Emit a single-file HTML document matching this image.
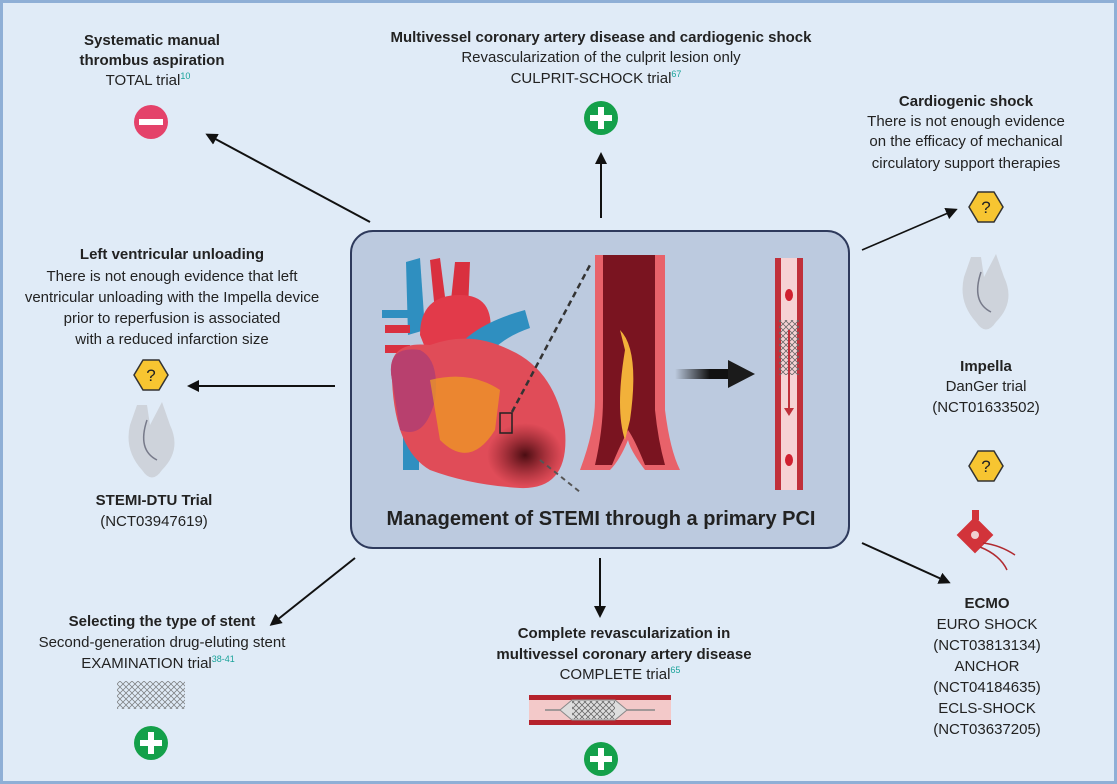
<!DOCTYPE html>
<html><head><meta charset="utf-8"><style>
html,body{margin:0;padding:0;background:#e0ebf7}
svg{display:block}
text{font-family:"Liberation Sans",Arial,sans-serif;font-size:15px;fill:#222;text-anchor:middle}
.b{font-weight:bold}
.s{font-size:9px;fill:#1aa39a;text-anchor:start}
</style></head><body>
<svg width="1117" height="784" viewBox="0 0 1117 784" xmlns="http://www.w3.org/2000/svg">
<defs>
<marker id="ah" markerWidth="12" markerHeight="12" refX="9" refY="6" orient="auto" markerUnits="userSpaceOnUse"><path d="M0,0 L12,6 L0,12 Z" fill="#111"/></marker>
<linearGradient id="g1" x1="0" x2="1"><stop offset="0" stop-color="#111" stop-opacity="0"/><stop offset="0.6" stop-color="#111"/></linearGradient>
<pattern id="mesh" width="6" height="6" patternUnits="userSpaceOnUse"><path d="M0,3 L3,0 L6,3 L3,6 Z" fill="none" stroke="#666" stroke-width="0.8"/></pattern>
<radialGradient id="inf" cx="0.5" cy="0.5" r="0.5"><stop offset="0" stop-color="#4a0d12"/><stop offset="1" stop-color="#7a1620" stop-opacity="0"/></radialGradient>
</defs>
<rect x="1.5" y="1.5" width="1114" height="781" fill="#e0ebf7" stroke="#8fafd6" stroke-width="3"/>

<!-- center box -->
<rect x="351" y="231" width="498" height="317" rx="22" fill="#bccadf" stroke="#2e3a5c" stroke-width="2"/>
<!-- heart -->
<g>
<path d="M406,262 L420,258 L425,330 L408,335 Z" fill="#2f8fc0"/>
<rect x="403" y="400" width="16" height="70" fill="#2f8fc0"/>
<path d="M430,260 L440,258 L448,320 L436,322 Z" fill="#d9303f"/>
<path d="M455,262 L470,262 L468,310 L450,310 Z" fill="#d9303f"/>
<path d="M420,335 Q420,295 460,295 Q495,295 490,335 L480,360 L430,360 Z" fill="#e23a4a"/>
<path d="M452,355 Q470,325 525,310 L530,328 Q495,340 482,365 Z" fill="#2f8fc0"/>
<rect x="382" y="310" width="30" height="8" fill="#2f8fc0"/>
<rect x="385" y="325" width="25" height="8" fill="#d9303f"/>
<rect x="385" y="345" width="25" height="8" fill="#d9303f"/>
<path d="M392,380 Q385,340 430,345 Q470,330 510,350 Q555,370 565,430 Q570,490 520,488 Q470,485 430,470 Q395,450 392,380 Z" fill="#e04c58"/>
<path d="M392,380 Q385,345 420,350 Q440,360 435,400 Q425,440 400,430 Z" fill="#b8406e"/>
<path d="M430,380 Q470,370 500,390 L495,430 Q470,470 440,440 Z" fill="#f0a020" opacity="0.7"/>
<ellipse cx="525" cy="455" rx="38" ry="32" fill="url(#inf)"/>
<rect x="500" y="413" width="12" height="20" fill="none" stroke="#222" stroke-width="1.5"/>
</g>
<line x1="512" y1="412" x2="590" y2="265" stroke="#333" stroke-width="2.5" stroke-dasharray="6,4"/>
<line x1="540" y1="460" x2="580" y2="492" stroke="#555" stroke-width="2" stroke-dasharray="5,4"/>
<!-- artery -->
<path d="M595,255 L665,255 L665,410 Q670,450 680,470 L645,470 Q630,450 628,440 Q620,460 610,470 L580,470 Q595,430 595,400 Z" fill="#e8626a"/>
<path d="M603,255 L655,255 L655,410 Q658,440 665,465 L645,465 Q635,440 628,430 Q618,450 612,465 L595,465 Q603,430 603,400 Z" fill="#7a1420"/>
<path d="M620,330 Q640,350 630,420 L625,440 Q615,410 625,350 Z" fill="#f2b13a"/>
<!-- arrow -->
<rect x="675" y="369" width="58" height="10" fill="url(#g1)"/>
<path d="M728,360 L755,374 L728,388 Z" fill="#1b1b1b"/>
<!-- stented vessel -->
<path d="M775,258 L803,258 L803,490 L775,490 Z" fill="#c0303a"/>
<rect x="781" y="258" width="16" height="232" fill="#f6d2d4"/>
<rect x="779" y="320" width="20" height="55" fill="url(#mesh)"/>
<line x1="789" y1="330" x2="789" y2="410" stroke="#c0303a" stroke-width="2"/>
<path d="M784,408 L794,408 L789,416 Z" fill="#c0303a"/>
<ellipse cx="789" cy="295" rx="4" ry="6" fill="#d02030"/>
<ellipse cx="789" cy="460" rx="4" ry="6" fill="#d02030"/>
<text class="b" x="601" y="525" style="font-size:20px">Management of STEMI through a primary PCI</text>

<!-- arrows -->
<path d="M370,222 L208,135" stroke="#111" stroke-width="2" marker-end="url(#ah)"/>
<path d="M601,218 L601,155" stroke="#111" stroke-width="2" marker-end="url(#ah)"/>
<path d="M862,250 L955,210" stroke="#111" stroke-width="1.6" marker-end="url(#ah)"/>
<path d="M335,386 L190,386" stroke="#111" stroke-width="2" marker-end="url(#ah)"/>
<path d="M355,558 L272,624" stroke="#111" stroke-width="2" marker-end="url(#ah)"/>
<path d="M600,558 L600,615" stroke="#111" stroke-width="2" marker-end="url(#ah)"/>
<path d="M862,543 L948,582" stroke="#111" stroke-width="2" marker-end="url(#ah)"/>

<!-- top-left -->
<text class="b" x="152" y="45">Systematic manual</text>
<text class="b" x="152" y="65">thrombus aspiration</text>
<text x="148" y="85">TOTAL trial<tspan class="s" dy="-6">10</tspan></text>
<circle cx="151" cy="122" r="17" fill="#e4426a"/><rect x="139" y="119" width="24" height="6" fill="#fff"/>

<!-- top-middle -->
<text class="b" x="601" y="42">Multivessel coronary artery disease and cardiogenic shock</text>
<text x="601" y="62">Revascularization of the culprit lesion only</text>
<text x="596" y="83">CULPRIT-SCHOCK trial<tspan class="s" dy="-6">67</tspan></text>
<circle cx="601" cy="118" r="17" fill="#14a04a"/><rect x="598" y="107" width="6" height="22" fill="#fff"/><rect x="590" y="115" width="22" height="6" fill="#fff"/>

<!-- right top -->
<text class="b" x="966" y="106">Cardiogenic shock</text>
<text x="966" y="126">There is not enough evidence</text>
<text x="966" y="146">on the efficacy of mechanical</text>
<text x="966" y="168">circulatory support therapies</text>
<g transform="translate(986,207)"><path d="M-17,0 L-8,-15 L8,-15 L17,0 L8,15 L-8,15 Z" fill="#f7c531" stroke="#333" stroke-width="1.5"/><text x="0" y="6" style="font-size:17px">?</text></g>
<g transform="translate(986,292)" opacity="0.75"><path d="M-15,-35 L-5,-35 L-2,-15 L10,-38 L18,-15 Q30,10 10,30 Q0,45 -10,30 Q-28,10 -22,-15 Z" fill="#c8ccd2"/><path d="M-5,-20 Q-15,10 5,20" fill="none" stroke="#556" stroke-width="1.5"/></g>
<text class="b" x="986" y="371">Impella</text>
<text x="986" y="391">DanGer trial</text>
<text x="986" y="412">(NCT01633502)</text>
<g transform="translate(986,466)"><path d="M-17,0 L-8,-15 L8,-15 L17,0 L8,15 L-8,15 Z" fill="#f7c531" stroke="#333" stroke-width="1.5"/><text x="0" y="6" style="font-size:17px">?</text></g>
<g transform="translate(975,535)"><rect x="-13" y="-13" width="26" height="26" transform="rotate(45)" fill="#d2333a"/><rect x="-3" y="-25" width="7" height="10" fill="#d2333a"/><circle r="4" fill="#f0d0d0"/><path d="M8,8 Q25,10 40,20 M5,12 Q25,20 32,35" fill="none" stroke="#b02a30" stroke-width="1.5"/></g>

<!-- left -->
<text class="b" x="172" y="259">Left ventricular unloading</text>
<text x="172" y="281">There is not enough evidence that left</text>
<text x="172" y="302">ventricular unloading with the Impella device</text>
<text x="172" y="323">prior to reperfusion is associated</text>
<text x="172" y="344">with a reduced infarction size</text>
<g transform="translate(151,375)"><path d="M-17,0 L-8,-15 L8,-15 L17,0 L8,15 L-8,15 Z" fill="#f7c531" stroke="#333" stroke-width="1.5"/><text x="0" y="6" style="font-size:17px">?</text></g>
<g transform="translate(152,440)" opacity="0.75"><path d="M-15,-35 L-5,-35 L-2,-15 L10,-38 L18,-15 Q30,10 10,30 Q0,45 -10,30 Q-28,10 -22,-15 Z" fill="#c8ccd2"/><path d="M-5,-20 Q-15,10 5,20" fill="none" stroke="#556" stroke-width="1.5"/></g>
<text class="b" x="154" y="505">STEMI-DTU Trial</text>
<text x="154" y="526">(NCT03947619)</text>

<!-- bottom-left -->
<text class="b" x="162" y="626">Selecting the type of stent</text>
<text x="162" y="647">Second-generation drug-eluting stent</text>
<text x="158" y="668">EXAMINATION trial<tspan class="s" dy="-6">38-41</tspan></text>
<rect x="117" y="681" width="68" height="28" fill="url(#mesh)" opacity="0.8"/>
<circle cx="151" cy="743" r="17" fill="#14a04a"/><rect x="148" y="732" width="6" height="22" fill="#fff"/><rect x="140" y="740" width="22" height="6" fill="#fff"/>

<!-- bottom-middle -->
<text class="b" x="624" y="638">Complete revascularization in</text>
<text class="b" x="624" y="659">multivessel coronary artery disease</text>
<text x="620" y="679">COMPLETE trial<tspan class="s" dy="-6">65</tspan></text>
<rect x="529" y="697" width="142" height="26" fill="#f3c9c9"/>
<rect x="529" y="695" width="142" height="5" fill="#b5222c"/>
<rect x="529" y="720" width="142" height="5" fill="#b5222c"/>
<line x1="545" y1="710" x2="655" y2="710" stroke="#888" stroke-width="1.5"/>
<path d="M560,710 L572,700 L615,700 L627,710 L615,720 L572,720 Z" fill="#ddd" stroke="#888"/>
<rect x="572" y="701" width="43" height="18" fill="url(#mesh)"/>
<circle cx="601" cy="759" r="17" fill="#14a04a"/><rect x="598" y="748" width="6" height="22" fill="#fff"/><rect x="590" y="756" width="22" height="6" fill="#fff"/>

<!-- ECMO -->
<text class="b" x="987" y="608">ECMO</text>
<text x="987" y="629">EURO SHOCK</text>
<text x="987" y="650">(NCT03813134)</text>
<text x="987" y="671">ANCHOR</text>
<text x="987" y="692">(NCT04184635)</text>
<text x="987" y="713">ECLS-SHOCK</text>
<text x="987" y="734">(NCT03637205)</text>
</svg>
</body></html>
